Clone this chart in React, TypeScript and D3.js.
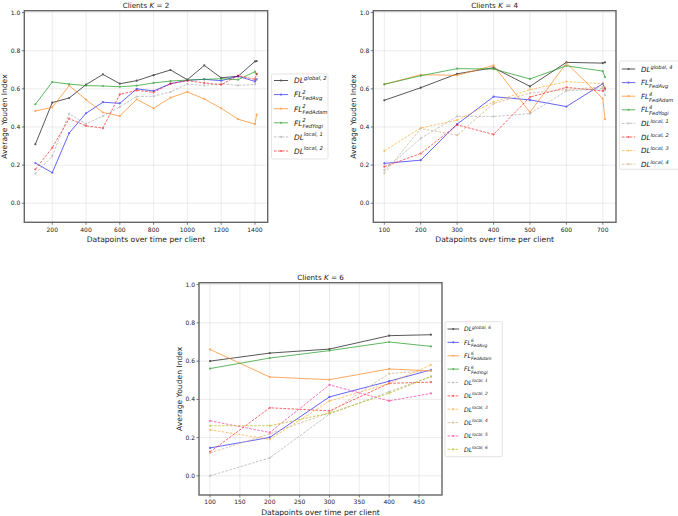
import * as d3 from "d3";

// K = 2
const K2_X = [100, 200, 300, 400, 500, 600, 700, 800, 900, 1000, 1100, 1200, 1300, 1400, 1410];
const K2_GLOBAL = [0.31, 0.528, 0.552, 0.622, 0.676, 0.627, 0.643, 0.672, 0.699, 0.648, 0.723, 0.658, 0.666, 0.744, 0.746];
const K2_FEDAVG = [0.211, 0.16, 0.368, 0.472, 0.53, 0.524, 0.6, 0.589, 0.627, 0.645, 0.65, 0.643, 0.666, 0.639, 0.65];
const K2_FEDADAM = [0.484, 0.503, 0.617, 0.543, 0.476, 0.458, 0.545, 0.498, 0.554, 0.584, 0.547, 0.498, 0.441, 0.415, 0.465];
const K2_FEDYOGI = [0.519, 0.636, 0.625, 0.617, 0.615, 0.611, 0.617, 0.631, 0.641, 0.646, 0.65, 0.653, 0.648, 0.69, 0.676];
const K2_LOCAL1 = [0.155, 0.247, 0.47, 0.416, 0.458, 0.505, 0.56, 0.561, 0.584, 0.625, 0.618, 0.627, 0.618, 0.623, 0.648];
const K2_LOCAL2 = [0.178, 0.291, 0.444, 0.406, 0.394, 0.571, 0.592, 0.582, 0.627, 0.643, 0.631, 0.622, 0.669, 0.65, 0.679];
const K2_TICKS = [200, 400, 600, 800, 1000, 1200, 1400];

// K = 4
const K4_X = [100, 200, 300, 400, 500, 600, 700, 706];
const K4_GLOBAL = [0.54, 0.606, 0.679, 0.711, 0.613, 0.739, 0.735, 0.739];
const K4_FEDAVG = [0.209, 0.226, 0.415, 0.559, 0.542, 0.507, 0.627, 0.601];
const K4_FEDADAM = [0.624, 0.674, 0.671, 0.723, 0.477, 0.735, 0.549, 0.441];
const K4_FEDYOGI = [0.624, 0.669, 0.706, 0.704, 0.652, 0.721, 0.693, 0.662];
const K4_LOCAL1 = [0.174, 0.34, 0.456, 0.455, 0.47, 0.589, 0.601, 0.566];
const K4_LOCAL2 = [0.192, 0.261, 0.411, 0.361, 0.557, 0.608, 0.589, 0.601];
const K4_LOCAL3 = [0.275, 0.395, 0.436, 0.531, 0.596, 0.638, 0.627, 0.606];
const K4_LOCAL4 = [0.157, 0.392, 0.357, 0.523, 0.578, 0.596, 0.61, 0.592];
const K4_TICKS = [100, 200, 300, 400, 500, 600, 700];

// K = 6
const K6_X = [100, 200, 300, 400, 470];
const K6_GLOBAL = [0.6, 0.642, 0.663, 0.733, 0.738];
const K6_FEDAVG = [0.146, 0.201, 0.413, 0.495, 0.554];
const K6_FEDADAM = [0.661, 0.517, 0.503, 0.559, 0.549];
const K6_FEDYOGI = [0.561, 0.616, 0.655, 0.7, 0.677];
const K6_LOCAL1 = [0.0, 0.094, 0.323, 0.44, 0.52];
const K6_LOCAL2 = [0.125, 0.356, 0.34, 0.484, 0.49];
const K6_LOCAL3 = [0.241, 0.191, 0.391, 0.484, 0.58];
const K6_LOCAL4 = [0.12, 0.22, 0.33, 0.535, 0.55];
const K6_LOCAL5 = [0.288, 0.227, 0.476, 0.392, 0.431];
const K6_LOCAL6 = [0.262, 0.262, 0.328, 0.432, 0.519];
const K6_TICKS = [100, 150, 200, 250, 300, 350, 400, 450];

const Y_TICKS = [0.0, 0.2, 0.4, 0.6, 0.8, 1.0];

const FONT = "DejaVu Sans, sans-serif";

type Series = {
  values: number[];
  color: string;
  opacity: number;
  dashed: boolean;
  base: string;
  sup: string;
  sub?: string;
};

const styleFor = (kind: string) => {
  switch (kind) {
    case "global": return { color: "#000000", opacity: 0.65, dashed: false };
    case "avg": return { color: "#0000ff", opacity: 0.6, dashed: false };
    case "adam": return { color: "#ff7f0e", opacity: 0.65, dashed: false };
    case "yogi": return { color: "#2ca02c", opacity: 0.75, dashed: false };
    case "l1": return { color: "#a0a0a0", opacity: 0.6, dashed: true };
    case "l2": return { color: "#ff0000", opacity: 0.6, dashed: true };
    case "l3": return { color: "#ff9900", opacity: 0.55, dashed: true };
    case "l4": return { color: "#d2b48c", opacity: 0.75, dashed: true };
    case "l5": return { color: "#ff1493", opacity: 0.6, dashed: true };
    default: return { color: "#bcbd22", opacity: 0.75, dashed: true };
  }
};

function makeSeries(k: number, vals: number[][], locals: number): Series[] {
  const out: Series[] = [
    { values: vals[0], ...styleFor("global"), base: "DL", sup: `global, ${k}` },
    { values: vals[1], ...styleFor("avg"), base: "FL", sup: `${k}`, sub: "FedAvg" },
    { values: vals[2], ...styleFor("adam"), base: "FL", sup: `${k}`, sub: "FedAdam" },
    { values: vals[3], ...styleFor("yogi"), base: "FL", sup: `${k}`, sub: "FedYogi" },
  ];
  for (let i = 1; i <= locals; i++) {
    out.push({ values: vals[3 + i], ...styleFor(`l${i}`), base: "DL", sup: `local, ${i}` });
  }
  return out;
}

type PanelProps = {
  title: string;
  k: string;
  xs: number[];
  xTicks: number[];
  series: Series[];
  box: { left: number; right: number; top: number; bottom: number };
  legend: { x: number; y: number; w: number; h: number; first: number; step: number; fs: number };
};

function Panel({ title, k, xs, xTicks, series, box, legend }: PanelProps) {
  const [xmin, xmax] = d3.extent(xs) as [number, number];
  const pad = (xmax - xmin) * 0.05;
  const x = d3.scaleLinear().domain([xmin - pad, xmax + pad]).range([box.left, box.right]);
  const y = d3.scaleLinear().domain([-0.1, 1.01]).range([box.bottom, box.top]);
  const line = d3.line<number>().x((_, i) => x(xs[i])).y((d) => y(d));
  const cx = (box.left + box.right) / 2;
  const cy = (box.top + box.bottom) / 2;

  return (
    <g fontFamily={FONT}>
      <rect x={box.left} y={box.top} width={box.right - box.left} height={box.bottom - box.top} fill="#fff" />
      {xTicks.map((t) => (
        <line key={"gx" + t} x1={x(t)} x2={x(t)} y1={box.top} y2={box.bottom} stroke="#b0b0b0" strokeOpacity={0.3} strokeWidth={0.8} />
      ))}
      {Y_TICKS.map((t) => (
        <line key={"gy" + t} x1={box.left} x2={box.right} y1={y(t)} y2={y(t)} stroke="#b0b0b0" strokeOpacity={0.3} strokeWidth={0.8} />
      ))}
      {series.map((s, si) => (
        <g key={si} opacity={s.opacity}>
          <path d={line(s.values) || ""} fill="none" stroke={s.color} strokeWidth={1} strokeDasharray={s.dashed ? "2.6,1.4" : undefined} />
          {s.values.map((v, i) => (
            <circle key={i} cx={x(xs[i])} cy={y(v)} r={1.1} fill={s.color} />
          ))}
        </g>
      ))}
      <rect x={box.left} y={box.top} width={box.right - box.left} height={box.bottom - box.top} fill="none" stroke="#666" strokeWidth={1.4} />
      {xTicks.map((t) => (
        <g key={"tx" + t}>
          <line x1={x(t)} x2={x(t)} y1={box.bottom} y2={box.bottom + 2.5} stroke="#444" strokeWidth={0.7} />
          <text x={x(t)} y={box.bottom + 9.2} fontSize={6} textAnchor="middle" fill="#222">{t}</text>
        </g>
      ))}
      {Y_TICKS.map((t) => (
        <g key={"ty" + t}>
          <line x1={box.left - 2.5} x2={box.left} y1={y(t)} y2={y(t)} stroke="#444" strokeWidth={0.7} />
          <text x={box.left - 4} y={y(t) + 2.1} fontSize={6} textAnchor="end" fill="#222">{t.toFixed(1)}</text>
        </g>
      ))}
      <text x={cx} y={box.top - 3} fontSize={7.2} textAnchor="middle" fill="#222">
        {title} <tspan fontStyle="italic">K</tspan> = {k}
      </text>
      <text x={cx} y={box.bottom + 20} fontSize={7.6} textAnchor="middle" fill="#222">Datapoints over time per client</text>
      <text transform={`translate(${box.left - 17},${cy}) rotate(-90)`} fontSize={7.6} textAnchor="middle" fill="#222">Average Youden Index</text>
      <rect x={legend.x} y={legend.y} width={legend.w} height={legend.h} rx={1.5} fill="#fff" fillOpacity={0.9} stroke="#d8d8d8" strokeWidth={0.7} />
      {series.map((s, i) => {
        const ly = legend.first + i * legend.step;
        const hx = legend.x + 2.5;
        const hw = legend.fs * 1.9;
        return (
          <g key={"lg" + i}>
            <g opacity={s.opacity}>
              <line x1={hx} x2={hx + hw} y1={ly} y2={ly} stroke={s.color} strokeWidth={1} strokeDasharray={s.dashed ? "2.6,1.4" : undefined} />
              <circle cx={hx + hw / 2} cy={ly} r={1.1} fill={s.color} />
            </g>
            <text x={hx + hw + legend.fs * 0.8} y={ly + legend.fs * 0.38} fontSize={legend.fs} fontStyle="italic" fill="#222">
              {s.base}
              <tspan dy={-legend.fs * 0.45} fontSize={legend.fs * 0.72}>{s.sup}</tspan>
              {s.sub && (
                <tspan dx={-legend.fs * 0.45} dy={legend.fs * 0.82} fontSize={legend.fs * 0.72}>{s.sub}</tspan>
              )}
            </text>
          </g>
        );
      })}
    </g>
  );
}

export default function App() {
  const s2 = makeSeries(2, [K2_GLOBAL, K2_FEDAVG, K2_FEDADAM, K2_FEDYOGI, K2_LOCAL1, K2_LOCAL2], 2);
  const s4 = makeSeries(4, [K4_GLOBAL, K4_FEDAVG, K4_FEDADAM, K4_FEDYOGI, K4_LOCAL1, K4_LOCAL2, K4_LOCAL3, K4_LOCAL4], 4);
  const s6 = makeSeries(6, [K6_GLOBAL, K6_FEDAVG, K6_FEDADAM, K6_FEDYOGI, K6_LOCAL1, K6_LOCAL2, K6_LOCAL3, K6_LOCAL4, K6_LOCAL5, K6_LOCAL6], 6);

  return (
    <div style={{ position: "fixed", left: 0, top: 0, width: 678, height: 516, background: "#fff" }}>
      <svg width={678} height={516}>
        <rect width={678} height={516} fill="#fff" />
        <Panel
          title="Clients"
          k="2"
          xs={K2_X}
          xTicks={K2_TICKS}
          series={s2}
          box={{ left: 24.3, right: 267.7, top: 10.7, bottom: 222.3 }}
          legend={{ x: 271.5, y: 74, w: 56.5, h: 85, first: 80.5, step: 14.1, fs: 7.4 }}
        />
        <Panel
          title="Clients"
          k="4"
          xs={K4_X}
          xTicks={K4_TICKS}
          series={s4}
          box={{ left: 373.3, right: 616, top: 10.7, bottom: 222.3 }}
          legend={{ x: 619.3, y: 61, w: 62, h: 108.3, first: 69, step: 13.6, fs: 7.1 }}
        />
        <Panel
          title="Clients"
          k="6"
          xs={K6_X}
          xTicks={K6_TICKS}
          series={s6}
          box={{ left: 199, right: 442, top: 282.7, bottom: 495 }}
          legend={{ x: 445, y: 321.7, w: 57.3, h: 135, first: 329, step: 13.37, fs: 6.1 }}
        />
      </svg>
    </div>
  );
}
